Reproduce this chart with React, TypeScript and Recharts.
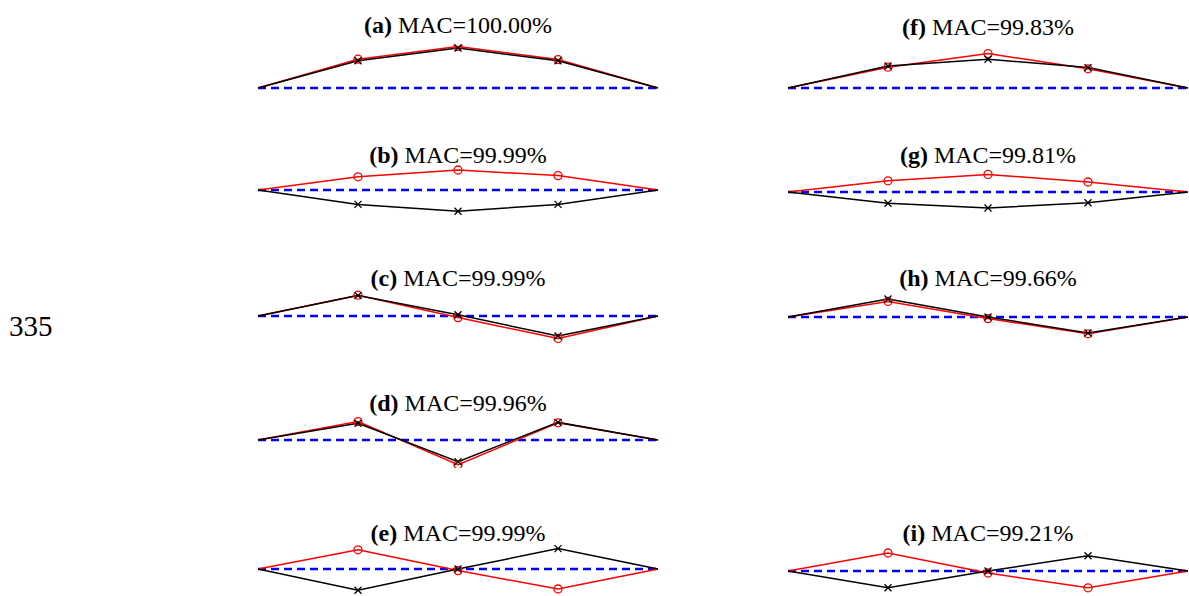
import React from "react";
import { LineChart, Line, XAxis, YAxis } from "recharts";

// node positions along the member
const nodes = [0, 1, 2, 3, 4];

// panel labels and MAC values
const letters = ["a", "b", "c", "d", "e", "f", "g", "h", "i"];
const macValues = ["100.00", "99.99", "99.99", "99.96", "99.99", "99.83", "99.81", "99.66", "99.21"];

// red (circles) mode shapes
const redA = [0, 0.72, 1.04, 0.71, 0];
const redB = [0, 0.33, 0.5, 0.36, 0];
const redC = [0, 0.52, -0.04, -0.56, 0];
const redD = [0, 0.46, -0.62, 0.43, 0];
const redE = [0, 0.48, -0.04, -0.5, 0];
const redF = [0, 0.52, 0.86, 0.48, 0];
const redG = [0, 0.28, 0.44, 0.25, 0];
const redH = [0, 0.39, -0.04, -0.42, 0];
const redI = [0, 0.45, -0.05, -0.42, 0];

// black (crosses) mode shapes
const blackA = [0, 0.68, 1.0, 0.68, 0];
const blackB = [0, -0.36, -0.53, -0.36, 0];
const blackC = [0, 0.51, 0.03, -0.5, 0];
const blackD = [0, 0.42, -0.54, 0.44, 0];
const blackE = [0, -0.53, 0, 0.51, 0];
const blackF = [0, 0.55, 0.72, 0.51, 0];
const blackG = [0, -0.28, -0.4, -0.27, 0];
const blackH = [0, 0.45, 0, -0.4, 0];
const blackI = [0, -0.42, 0, 0.38, 0];

const reds = [redA, redB, redC, redD, redE, redF, redG, redH, redI];
const blacks = [blackA, blackB, blackC, blackD, blackE, blackF, blackG, blackH, blackI];

// layout: [left of plot, baseline y, title y]
const layout = [
  [258, 88, 25],
  [258, 190, 155],
  [258, 316, 278],
  [258, 440, 403],
  [258, 569, 533],
  [788, 88, 27],
  [788, 192, 155],
  [788, 317, 278],
  [788, 571, 533],
];

const PX = 40;
const YMIN = -0.7;
const YMAX = 1.1;
const PAD = 8;
const PLOT_W = 400;
const FONT = '"Liberation Serif", "Times New Roman", serif';

const Cross = (props: any) => {
  const { cx, cy, index } = props;
  if (index === 0 || index === nodes.length - 1 || cx == null) return <g key={`x-${index}`} />;
  const s = 3.5;
  return (
    <path
      key={`x-${index}`}
      d={`M${cx - s},${cy - s}L${cx + s},${cy + s}M${cx - s},${cy + s}L${cx + s},${cy - s}`}
      stroke="#000"
      strokeWidth={1.3}
      fill="none"
    />
  );
};

const Circle = (props: any) => {
  const { cx, cy, index } = props;
  if (index === 0 || index === nodes.length - 1 || cx == null) return <g key={`o-${index}`} />;
  return <circle key={`o-${index}`} cx={cx} cy={cy} r={4} stroke="#ff0000" strokeWidth={1.3} fill="none" />;
};

const Panel = ({ i }: { i: number }) => {
  const [left, baseline, titleY] = layout[i];
  const data = nodes.map((x, k) => ({ x, red: reds[i][k], black: blacks[i][k], zero: 0 }));
  const h = (YMAX - YMIN) * PX + 2 * PAD;
  return (
    <>
      <div
        style={{
          position: "absolute",
          left,
          top: titleY - 12,
          width: PLOT_W,
          textAlign: "center",
          fontFamily: FONT,
          fontSize: 24,
          lineHeight: "24px",
          color: "#000",
          whiteSpace: "nowrap",
        }}
      >
        <b>({letters[i]})</b> MAC={macValues[i]}%
      </div>
      <div style={{ position: "absolute", left: left - PAD, top: baseline - YMAX * PX - PAD }}>
        <LineChart width={PLOT_W + 2 * PAD} height={h} data={data} margin={{ top: PAD, right: PAD, bottom: PAD, left: PAD }}>
          <XAxis type="number" dataKey="x" domain={[0, 4]} hide />
          <YAxis type="number" domain={[YMIN, YMAX]} hide width={0} allowDataOverflow />
          <Line dataKey="zero" stroke="#0000ff" strokeWidth={2.5} strokeDasharray="8 5" dot={false} isAnimationActive={false} />
          <Line dataKey="red" stroke="#ff0000" strokeWidth={1.5} dot={Circle} activeDot={false} isAnimationActive={false} />
          <Line dataKey="black" stroke="#000" strokeWidth={1.5} dot={Cross} activeDot={false} isAnimationActive={false} />
        </LineChart>
      </div>
    </>
  );
};

export default function App() {
  return (
    <div style={{ position: "absolute", left: 0, top: 0, width: 1189, height: 596, overflow: "hidden", background: "#fff" }}>
      <div style={{ position: "absolute", left: 9, top: 312, fontFamily: FONT, fontSize: 29, lineHeight: "29px" }}>335</div>
      {letters.map((_, i) => (
        <Panel key={i} i={i} />
      ))}
    </div>
  );
}
